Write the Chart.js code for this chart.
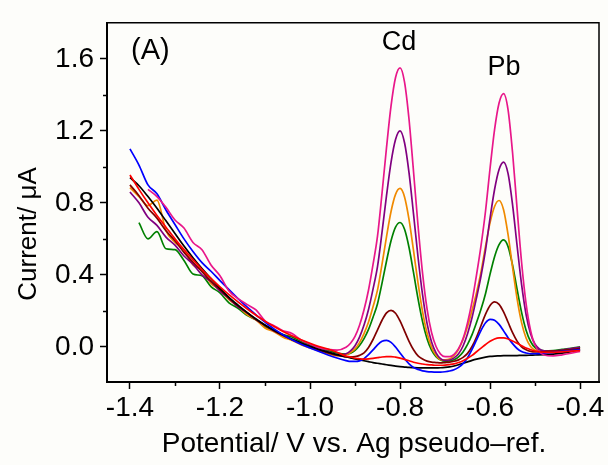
<!DOCTYPE html>
<html>
<head>
<meta charset="utf-8">
<script src="https://cdn.jsdelivr.net/npm/chart.js@4"></script>
<style>
html, body { margin: 0; padding: 0; background: #fdfdfa; }
canvas { display: block; }
</style>
</head>
<body>
<canvas id="dpvChart" width="608" height="465"></canvas>
<script>
// DPV CURVES - Cd / Pb STRIPPING PEAKS

// potential grid (V), finer around the two peaks
const potential = [
    -1.40, -1.38, -1.36, -1.34, -1.32, -1.30, -1.28, -1.26, -1.24, -1.22,
    -1.20, -1.18, -1.16, -1.14, -1.12, -1.10, -1.08, -1.06, -1.04, -1.02,
    -1.00, -0.98, -0.96, -0.94, -0.92,
    -0.91, -0.90, -0.89, -0.88, -0.87, -0.86, -0.85, -0.84, -0.83, -0.82,
    -0.81, -0.80, -0.79, -0.78, -0.77, -0.76, -0.75, -0.74, -0.73, -0.72,
    -0.71, -0.70, -0.69, -0.68, -0.67, -0.66, -0.65, -0.64, -0.63, -0.62,
    -0.61, -0.60, -0.59, -0.58, -0.57, -0.56, -0.55, -0.54, -0.53, -0.52,
    -0.51, -0.50,
    -0.48, -0.46, -0.44, -0.42, -0.40
];

// current (uA)
const currentBlack = [
    0.940, 0.895, 0.835, 0.770, 0.700, 0.630, 0.560, 0.495, 0.435, 0.380,
    0.325, 0.275, 0.232, 0.192, 0.155, 0.122, 0.092, 0.066, 0.043, 0.022,
    0.003, -0.014, -0.029, -0.043, -0.055,
    -0.061, -0.067, -0.072, -0.077, -0.082, -0.087, -0.091, -0.095, -0.099, -0.103,
    -0.107, -0.110, -0.112, -0.114, -0.115, -0.116, -0.117, -0.117, -0.117, -0.117,
    -0.116, -0.114, -0.111, -0.106, -0.099, -0.091, -0.083, -0.075, -0.068, -0.062,
    -0.057, -0.053, -0.051, -0.050, -0.049, -0.049, -0.048, -0.048, -0.047, -0.047,
    -0.046, -0.045,
    -0.043, -0.040, -0.035, -0.026, -0.015
];

const currentRed = [
    0.955, 0.875, 0.800, 0.730, 0.665, 0.600, 0.540, 0.485, 0.430, 0.380,
    0.333, 0.290, 0.250, 0.212, 0.176, 0.143, 0.113, 0.086, 0.062, 0.040,
    0.020, 0.002, -0.012, -0.030, -0.051,
    -0.056, -0.063, -0.066, -0.068, -0.067, -0.064, -0.060, -0.056, -0.054, -0.054,
    -0.057, -0.062, -0.069, -0.077, -0.085, -0.091, -0.095, -0.099, -0.100, -0.102,
    -0.102, -0.101, -0.098, -0.094, -0.087, -0.077, -0.063, -0.047, -0.027, -0.007,
    0.013, 0.031, 0.044, 0.050, 0.050, 0.044, 0.033, 0.020, 0.007, -0.006,
    -0.015, -0.023,
    -0.030, -0.030, -0.028, -0.024, -0.020
];

const currentBlue = [
    1.100, 1.010, 0.900, 0.850, 0.760, 0.680, 0.600, 0.530, 0.468, 0.420,
    0.368, 0.318, 0.268, 0.222, 0.178, 0.138, 0.100, 0.068, 0.040, 0.015,
    -0.006, -0.026, -0.045, -0.062, -0.076,
    -0.081, -0.081, -0.078, -0.065, -0.043, -0.017, 0.011, 0.031, 0.036, 0.025,
    -0.001, -0.034, -0.066, -0.094, -0.114, -0.125, -0.133, -0.137, -0.139, -0.140,
    -0.140, -0.138, -0.134, -0.127, -0.114, -0.093, -0.060, -0.014, 0.039, 0.092,
    0.134, 0.153, 0.148, 0.125, 0.089, 0.051, 0.018, -0.009, -0.026, -0.034,
    -0.038, -0.038,
    -0.035, -0.030, -0.025, -0.020, -0.015
];

const currentBrown = [
    0.900, 0.840, 0.770, 0.715, 0.645, 0.590, 0.525, 0.470, 0.418, 0.365,
    0.318, 0.270, 0.228, 0.190, 0.152, 0.120, 0.090, 0.063, 0.040, 0.020,
    0.000, -0.018, -0.033, -0.046, -0.055,
    -0.056, -0.054, -0.047, -0.033, -0.003, 0.041, 0.095, 0.148, 0.189, 0.203,
    0.187, 0.144, 0.088, 0.031, -0.016, -0.050, -0.067, -0.079, -0.085, -0.087,
    -0.089, -0.087, -0.085, -0.080, -0.072, -0.058, -0.036, 0.002, 0.055, 0.119,
    0.182, 0.230, 0.250, 0.236, 0.194, 0.137, 0.079, 0.032, 0.000, -0.016,
    -0.025, -0.028,
    -0.027, -0.024, -0.020, -0.015, -0.010
];

const currentGreen = [
    null, 0.690, 0.600, 0.640, 0.545, 0.540, 0.480, 0.405, 0.395, 0.335,
    0.300, 0.245, 0.215, 0.175, 0.150, 0.112, 0.092, 0.068, 0.055, 0.030,
    0.012, -0.006, -0.020, -0.034, -0.040,
    -0.035, -0.019, 0.008, 0.046, 0.097, 0.165, 0.240, 0.354, 0.477, 0.589,
    0.665, 0.691, 0.653, 0.552, 0.412, 0.267, 0.141, 0.045, -0.018, -0.054,
    -0.073, -0.079, -0.078, -0.071, -0.055, -0.028, 0.014, 0.068, 0.136, 0.210,
    0.297, 0.404, 0.501, 0.568, 0.594, 0.557, 0.454, 0.320, 0.192, 0.093,
    0.030, -0.004,
    -0.022, -0.020, -0.014, -0.008, 0.000
];

const currentOrange = [
    0.885, 0.835, 0.785, 0.815, 0.645, 0.580, 0.540, 0.455, 0.428, 0.352,
    0.318, 0.262, 0.226, 0.180, 0.150, 0.105, 0.084, 0.054, 0.036, 0.012,
    -0.006, -0.022, -0.038, -0.050, -0.044,
    -0.031, -0.011, 0.024, 0.074, 0.138, 0.223, 0.317, 0.460, 0.613, 0.752,
    0.847, 0.880, 0.833, 0.707, 0.534, 0.354, 0.196, 0.077, -0.001, -0.047,
    -0.071, -0.072, -0.067, -0.048, -0.013, 0.041, 0.113, 0.203, 0.302, 0.418,
    0.560, 0.690, 0.780, 0.813, 0.762, 0.623, 0.442, 0.268, 0.135, 0.049,
    0.002, -0.018,
    -0.026, -0.024, -0.020, -0.014, -0.008
];

const currentPurple = [
    0.860, 0.800, 0.720, 0.675, 0.610, 0.565, 0.505, 0.460, 0.400, 0.362,
    0.310, 0.268, 0.222, 0.190, 0.152, 0.120, 0.088, 0.066, 0.040, 0.022,
    0.004, -0.016, -0.028, -0.045, -0.038,
    -0.022, 0.006, 0.054, 0.121, 0.208, 0.321, 0.447, 0.637, 0.841, 1.025,
    1.152, 1.200, 1.134, 0.967, 0.737, 0.498, 0.290, 0.131, 0.027, -0.033,
    -0.065, -0.075, -0.073, -0.061, -0.038, 0.005, 0.073, 0.163, 0.274, 0.395,
    0.539, 0.715, 0.874, 0.985, 1.026, 0.962, 0.789, 0.563, 0.347, 0.180,
    0.073, 0.015,
    -0.022, -0.023, -0.018, -0.010, -0.002
];

const currentMagenta = [
    null, null, 0.875, 0.835, 0.775, 0.705, 0.660, 0.580, 0.540, 0.455,
    0.395, 0.310, 0.268, 0.236, 0.205, 0.145, 0.118, 0.090, 0.074, 0.038,
    0.016, -0.004, -0.014, -0.018, -0.002,
    0.020, 0.058, 0.120, 0.206, 0.316, 0.458, 0.616, 0.854, 1.108, 1.338,
    1.496, 1.550, 1.471, 1.263, 0.973, 0.673, 0.410, 0.211, 0.080, 0.002,
    -0.040, -0.054, -0.054, -0.041, -0.010, 0.046, 0.135, 0.253, 0.401, 0.564,
    0.756, 0.992, 1.207, 1.355, 1.407, 1.317, 1.078, 0.768, 0.470, 0.240,
    0.091, 0.009,
    -0.045, -0.050, -0.044, -0.035, -0.025
];

const xMajorTicks = [-1.4, -1.2, -1.0, -0.8, -0.6, -0.4];
const xMinorTicks = [-1.3, -1.1, -0.9, -0.7, -0.5];
const yMajorTicks = [0, 0.4, 0.8, 1.2, 1.6];
const yMinorTicks = [0.2, 0.6, 1.0, 1.4];

const FONT = '"Liberation Sans", Arial, sans-serif';

function toPoints(values) {
    return potential.map((x, i) => ({ x: x, y: values[i] }));
}

// first one ends up on top
const series = [
    { label: 'red', values: currentRed, color: '#ff0000' },
    { label: 'magenta', values: currentMagenta, color: '#e8178a' },
    { label: 'blue', values: currentBlue, color: '#0000ff' },
    { label: 'black', values: currentBlack, color: '#000000' },
    { label: 'brown', values: currentBrown, color: '#800000' },
    { label: 'purple', values: currentPurple, color: '#800080' },
    { label: 'orange', values: currentOrange, color: '#f08a00' },
    { label: 'green', values: currentGreen, color: '#008000' }
];

// frame, minor ticks and the free text
const decorations = {
    id: 'decorations',
    afterDraw(chart) {
        const ctx = chart.ctx;
        const area = chart.chartArea;
        const xs = chart.scales.x;
        const ys = chart.scales.y;

        ctx.save();
        ctx.strokeStyle = '#000';
        ctx.lineWidth = 1.5;
        ctx.beginPath();
        ctx.moveTo(area.left, area.top);
        ctx.lineTo(area.right, area.top);
        ctx.lineTo(area.right, area.bottom);
        ctx.stroke();

        ctx.beginPath();
        xMinorTicks.forEach(v => {
            const px = Math.round(xs.getPixelForValue(v)) + 0.5;
            ctx.moveTo(px, area.bottom);
            ctx.lineTo(px, area.bottom + 4);
        });
        yMinorTicks.forEach(v => {
            const py = Math.round(ys.getPixelForValue(v)) + 0.5;
            ctx.moveTo(area.left - 4, py);
            ctx.lineTo(area.left, py);
        });
        ctx.stroke();

        ctx.fillStyle = '#000';
        ctx.textBaseline = 'alphabetic';

        ctx.font = '29px ' + FONT;
        ctx.textAlign = 'left';
        ctx.fillText('(A)', 131, 59);

        ctx.font = '27px ' + FONT;
        ctx.textAlign = 'center';
        ctx.fillText('Cd', 399, 50);
        ctx.fillText('Pb', 504, 75);

        ctx.font = '28px ' + FONT;
        ctx.fillText('Potential/ V vs. Ag pseudo\u2013ref.', 354, 452);

        ctx.font = '26px ' + FONT;
        ctx.translate(36, 234);
        ctx.rotate(-Math.PI / 2);
        ctx.fillText('Current/ \u03bcA', 0, 0);
        ctx.restore();
    }
};

new Chart(document.getElementById('dpvChart'), {
    type: 'line',
    data: {
        datasets: series.map(s => ({
            label: s.label,
            data: toPoints(s.values),
            borderColor: s.color,
            borderWidth: 1.7,
            pointRadius: 0,
            fill: false,
            cubicInterpolationMode: 'monotone'
        }))
    },
    options: {
        responsive: false,
        animation: false,
        events: [],
        layout: {
            padding: { top: 14, right: 9, left: 0, bottom: 0 }
        },
        plugins: {
            legend: { display: false },
            tooltip: { enabled: false }
        },
        scales: {
            x: {
                type: 'linear',
                min: -1.451,
                max: -0.358,
                afterBuildTicks: axis => {
                    axis.ticks = xMajorTicks.map(v => ({ value: v }));
                },
                afterFit: axis => {
                    axis.height = 83;
                },
                ticks: {
                    callback: v => v.toFixed(1),
                    color: '#000',
                    padding: 2,
                    maxRotation: 0,
                    autoSkip: false,
                    font: { family: FONT, size: 28 }
                },
                grid: {
                    drawOnChartArea: false,
                    tickLength: 7,
                    tickWidth: 1.5,
                    tickColor: '#000'
                },
                border: { color: '#000', width: 2 }
            },
            y: {
                type: 'linear',
                min: -0.195,
                max: 1.8,
                afterBuildTicks: axis => {
                    axis.ticks = yMajorTicks.map(v => ({ value: v }));
                },
                afterFit: axis => {
                    axis.width = 107;
                },
                ticks: {
                    callback: v => v.toFixed(1),
                    color: '#000',
                    padding: 6,
                    font: { family: FONT, size: 28 }
                },
                grid: {
                    drawOnChartArea: false,
                    tickLength: 7,
                    tickWidth: 1.5,
                    tickColor: '#000'
                },
                border: { color: '#000', width: 2 }
            }
        }
    },
    plugins: [decorations]
});
</script>
</body>
</html>
